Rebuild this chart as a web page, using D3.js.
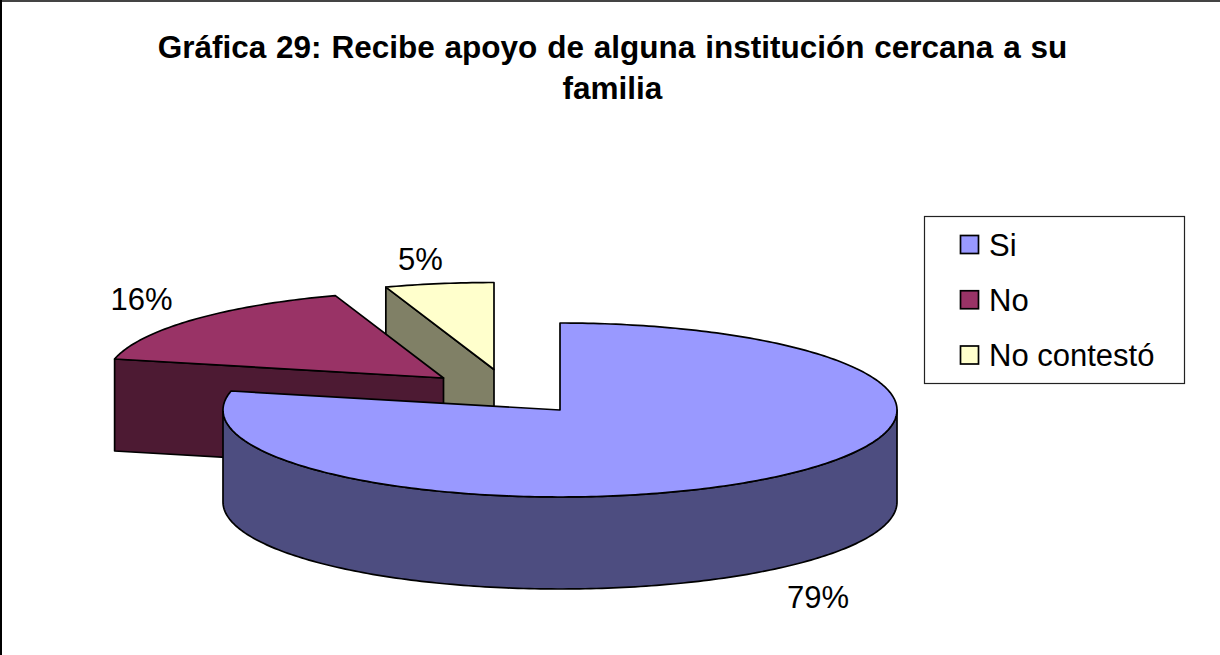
<!DOCTYPE html>
<html><head><meta charset="utf-8">
<script src="https://cdnjs.cloudflare.com/ajax/libs/d3/7.8.5/d3.min.js"></script>
<style>html,body{margin:0;padding:0;background:#fff;overflow:hidden}svg{display:block}text{font-family:"Liberation Sans",Arial,sans-serif;fill:#000}</style>
</head><body><svg id="c" width="1220" height="655"></svg>
<script>
const categories = ["Si","No","No contestó"];
const values = [78.5,16.3,5.2];
const pctLabels = ["79%","16%","5%"];
const topColors = ["#9999ff","#993366","#ffffcc"];
const sideColors = ["#4d4d80","#4d1a33","#808066"];
const titleLines = ["Gráfica 29: Recibe apoyo de alguna institución cercana a su","familia"];

const svg = d3.select("#c");
svg.append("line").attr("x1",0).attr("x2",1220).attr("y1",1).attr("y2",1).attr("stroke","#444").attr("stroke-width",2);
svg.append("line").attr("x1",1).attr("x2",1).attr("y1",0).attr("y2",655).attr("stroke","#000").attr("stroke-width",2);
svg.selectAll("text.title").data(titleLines).join("text").attr("class","title")
  .attr("x",612.5).attr("y",(d,i)=>58+i*41).attr("text-anchor","middle")
  .attr("font-size",31.5).attr("word-spacing",1.1).attr("font-weight","bold").text(d=>d);

const rx=337, ry=87, depth=92;
const centers=[[560,410],[443.5,378],[494,369.5]];
const arcs=d3.pie().sort(null).value(d=>d)(values);
const pt=(c,a,dy=0)=>[c[0]+rx*Math.sin(a),c[1]-ry*Math.cos(a)+dy];
const line=d3.line();
function arcPts(c,a0,a1,dy=0){
  const n=Math.max(2,Math.ceil((a1-a0)*60));
  return d3.range(n+1).map(i=>pt(c,a0+(a1-a0)*i/n,dy));
}
function draw(d,fill){
  svg.append("path").attr("d",d).attr("fill",fill).attr("stroke","#000")
    .attr("stroke-width",1.7).attr("stroke-linejoin","round");
}
[2,1,0].forEach(i=>{
  const a=arcs[i], c=centers[i], a0=a.startAngle, a1=a.endAngle;
  if(i>0){
    const o=pt(c,a0), b=[c[0],c[1]];
    draw(line([o,b,[b[0],b[1]+depth],[o[0],o[1]+depth]])+"Z",sideColors[i]);
  }
  const lo=Math.max(a0,Math.PI/2),hi=Math.min(a1,Math.PI*1.5);
  if(hi>lo){
    draw(line(arcPts(c,lo,hi).concat(arcPts(c,lo,hi,depth).reverse()))+"Z",sideColors[i]);
  }
  draw(line(arcPts(c,a0,a1).concat([[c[0],c[1]]]))+"Z",topColors[i]);
});

const labelPos=[[818,607.5],[141.5,310],[420.5,269.5]];
svg.selectAll("text.pct").data(pctLabels).join("text").attr("class","pct")
  .attr("x",(d,i)=>labelPos[i][0]).attr("y",(d,i)=>labelPos[i][1]).attr("text-anchor","middle")
  .attr("font-size",31).text(d=>d);

const lg=svg.append("g");
lg.append("rect").attr("x",924.5).attr("y",216.5).attr("width",260).attr("height",167).attr("fill","#fff").attr("stroke","#222").attr("stroke-width",1.2);
const y=d3.scalePoint().domain(categories).range([244.5,355]);
categories.forEach((k,i)=>{
  lg.append("rect").attr("x",960.5).attr("y",y(k)-9).attr("width",18).attr("height",18).attr("fill",topColors[i]).attr("stroke","#000").attr("stroke-width",1.7);
  lg.append("text").attr("x",989).attr("y",y(k)+11).attr("font-size",31).text(k);
});
</script></body></html>
